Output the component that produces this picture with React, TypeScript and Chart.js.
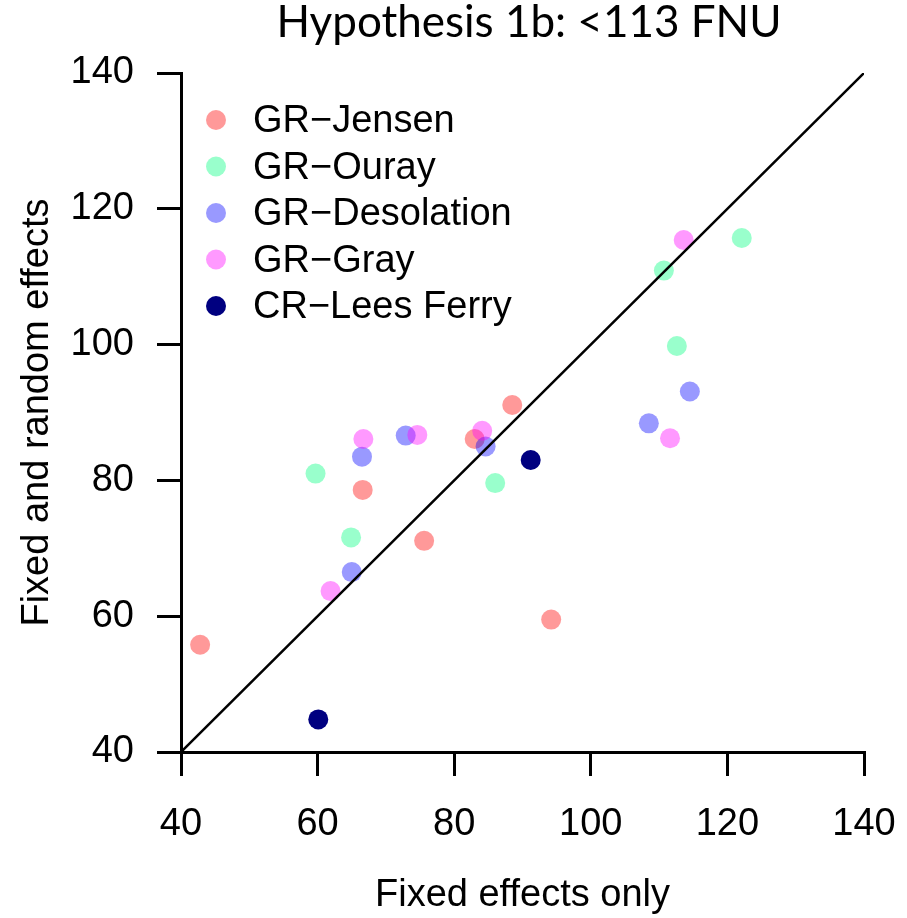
import React, { useEffect, useRef } from "react";
import { Chart, registerables } from "chart.js";

Chart.register(...registerables);

const titleText = "Hypothesis 1b: <113 FNU";
const xTitle = "Fixed effects only";
const yTitle = "Fixed and random effects";

const axisMin = 40;
const axisMax = 140;
const axisStep = 20;

const seriesNames = ["GR\u2212Jensen", "GR\u2212Ouray", "GR\u2212Desolation", "GR\u2212Gray", "CR\u2212Lees Ferry"];
const seriesColors = [
  "rgba(255,0,0,0.4)",
  "rgba(0,255,128,0.4)",
  "rgba(0,0,255,0.4)",
  "rgba(255,0,255,0.4)",
  "rgb(0,0,128)",
];

const jensenX = [42.8, 66.6, 75.6, 83.0, 88.5, 94.2];
const jensenY = [55.8, 78.6, 71.1, 86.1, 91.1, 59.5];
const ourayX = [59.7, 64.9, 86.0, 110.7, 112.6, 122.1];
const ourayY = [81.0, 71.6, 79.6, 110.9, 99.8, 115.7];
const desolationX = [65.0, 66.5, 72.9, 84.6, 108.5, 114.5];
const desolationY = [66.5, 83.5, 86.6, 85.0, 88.4, 93.1];
const grayX = [61.9, 66.7, 74.6, 84.1, 111.6, 113.6];
const grayY = [63.7, 86.1, 86.7, 87.3, 86.2, 115.4];
const leesX = [60.1, 91.2];
const leesY = [44.8, 83.0];

const lineX = [40, 140];
const lineY = [40, 140];

const seriesX = [jensenX, ourayX, desolationX, grayX, leesX];
const seriesY = [jensenY, ourayY, desolationY, grayY, leesY];

const pts = (xs: number[], ys: number[]) => xs.map((x, i) => ({ x, y: ys[i] }));

const FONT = "'Liberation Sans', Arial, sans-serif";
const FS = 38;

const overlayPlugin = {
  id: "overlay",
  afterDatasetsDraw(chart: any) {
    const { ctx, chartArea } = chart;
    ctx.save();
    // title
    ctx.fillStyle = "#000";
    ctx.font = "44px Lato, 'Open Sans', sans-serif";
    ctx.textAlign = "center";
    ctx.textBaseline = "alphabetic";
    ctx.fillText(titleText, 529, 37);
    // legend
    const lx = chartArea.left + 35;
    const ly = chartArea.top + 47;
    const gap = 46.5;
    ctx.font = `${FS}px ${FONT}`;
    ctx.textAlign = "left";
    ctx.textBaseline = "middle";
    chart.data.datasets.forEach((ds: any) => {
      if (ds.legendIndex === undefined) return;
      const y = ly + ds.legendIndex * gap;
      ctx.beginPath();
      ctx.fillStyle = ds.backgroundColor;
      ctx.arc(lx, y, 10, 0, Math.PI * 2);
      ctx.fill();
      ctx.fillStyle = "#000";
      ctx.fillText(ds.label, lx + 37, y + 2);
    });
    ctx.restore();
  },
};

export default function App() {
  const ref = useRef<HTMLCanvasElement>(null);
  useEffect(() => {
    if (!ref.current) return;
    const datasets: any[] = [
      {
        label: "1:1",
        data: pts(lineX, lineY),
        showLine: true,
        borderColor: "#000",
        borderWidth: 2.5,
        pointRadius: 0,
        order: 0,
      },
      ...seriesNames.map((name, i) => ({
        label: name,
        legendIndex: i,
        data: pts(seriesX[i], seriesY[i]),
        backgroundColor: seriesColors[i],
        borderWidth: 0,
        pointRadius: 10,
        pointHoverRadius: 10,
        order: 1 + (seriesNames.length - i),
      })),
    ];
    const scaleCommon = (title: string, tickPad: number) => ({
      type: "linear" as const,
      min: axisMin,
      max: axisMax,
      ticks: {
        stepSize: axisStep,
        color: "#000",
        font: { family: FONT, size: FS },
        padding: tickPad,
      },
      grid: {
        display: true,
        drawOnChartArea: false,
        drawTicks: true,
        tickLength: 24,
        color: "#000",
        lineWidth: 3,
      },
      border: { display: true, color: "#000", width: 3 },
      title: {
        display: true,
        text: title,
        color: "#000",
        font: { family: FONT, size: FS, lineHeight: 1.2 },
        padding: { top: 15, bottom: 0 },
      },
    });
    const chart = new Chart(ref.current, {
      type: "scatter",
      data: { datasets },
      options: {
        responsive: false,
        animation: false,
        layout: { padding: { left: 0, right: 43, top: 73, bottom: 0 } },
        plugins: { legend: { display: false }, tooltip: { enabled: false }, title: { display: false } },
        scales: {
          x: {
            ...scaleCommon(xTitle, 26),
            position: "bottom",
            afterFit: (s: any) => {
              s.height = 166;
              s.paddingLeft = 0;
              s.paddingRight = 0;
            },
          },
          y: {
            ...scaleCommon(yTitle, 23),
            position: "left",
            afterFit: (s: any) => {
              s.width = 181;
              s.paddingTop = 0;
              s.paddingBottom = 0;
            },
          },
        },
      } as any,
      plugins: [overlayPlugin],
    });
    return () => chart.destroy();
  }, []);
  return (
    <div style={{ position: "fixed", left: 0, top: 0, width: 907, height: 918, background: "#fff" }}>
      <canvas ref={ref} width={907} height={918} style={{ display: "block" }} />
    </div>
  );
}
